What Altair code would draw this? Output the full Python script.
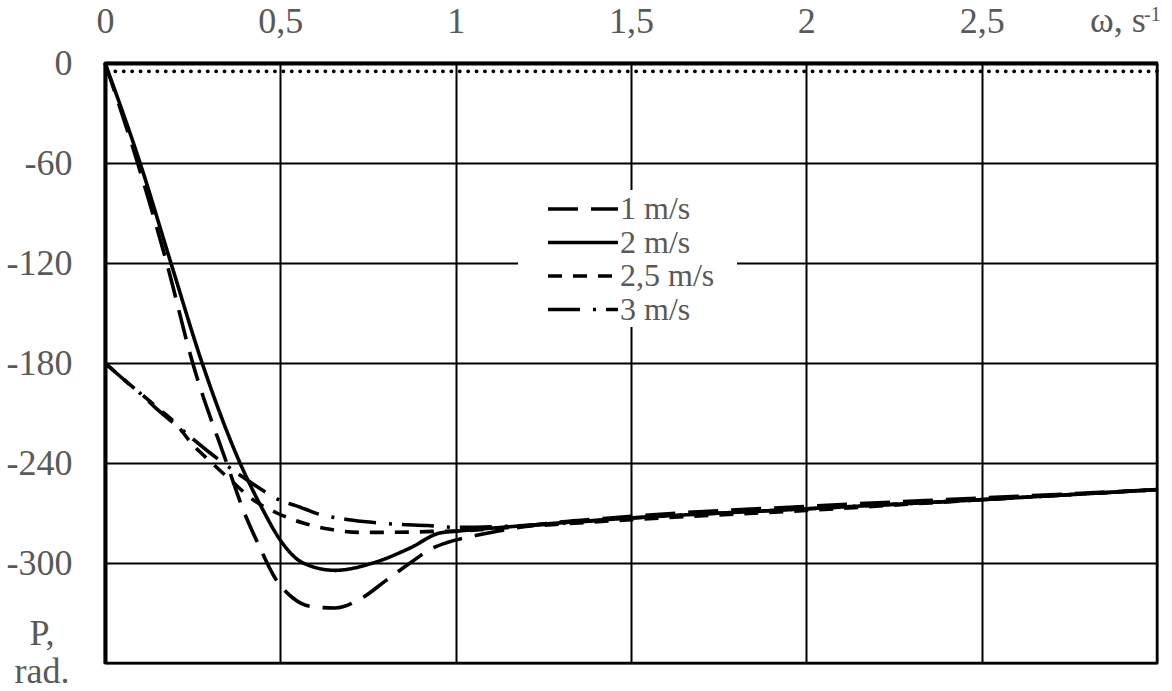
import altair as alt
import pandas as pd

# Speeds shown in the legend, in drawing order
SERIES = ["1 m/s", "2 m/s", "2,5 m/s", "3 m/s"]
DASHES = [[30, 13], [1, 0], [14, 11], [32, 13, 3, 10]]

# 1 m/s
w_1 = [0, 0.093, 0.176, 0.25, 0.347, 0.394, 0.44, 0.485, 0.536, 0.585, 0.656,
       0.733, 0.798, 0.87, 0.935, 0.978, 1.06, 1.2, 1.5, 2.0, 2.5, 3.0]
p_1 = [0, -60, -120, -180, -240, -268, -290, -309, -321, -326, -327,
       -321, -311, -300, -291, -287.6, -283.4, -278, -272, -266, -261, -256]

# 2 m/s
w_2 = [0, 0.1, 0.188, 0.277, 0.385, 0.45, 0.499, 0.565, 0.656, 0.764, 0.87,
       0.955, 1.0, 1.2, 1.5, 2.0, 2.5, 3.0]
p_2 = [0, -60, -120, -180, -240, -268, -286, -300, -304.4, -300, -291,
       -282, -281, -277.5, -273, -267.5, -262, -256]

# 2,5 m/s
w_25 = [0, 0.06, 0.1, 0.15, 0.2, 0.25, 0.3, 0.362, 0.422, 0.49, 0.565, 0.642,
        0.727, 0.804, 0.884, 0.946, 1.0, 1.2, 1.5, 2.0, 2.5, 3.0]
p_25 = [-180, -191, -198, -207, -216, -229, -239, -251, -262, -270, -276, -279.8,
        -281.6, -281.6, -281.4, -281, -280.8, -278, -274, -268.5, -262, -256]

# 3 m/s
w_3 = [0, 0.063, 0.094, 0.15, 0.222, 0.3, 0.394, 0.462, 0.499, 0.542, 0.622,
       0.664, 0.707, 0.793, 0.835, 0.92, 1.0, 1.2, 1.5, 2.0, 2.5, 3.0]
p_3 = [-180, -191.6, -197, -208, -220.5, -234, -248.6, -258, -262.4, -265.4, -271.4,
       -273, -274.4, -276.2, -276.8, -277.5, -278.6, -277.5, -273, -267.5, -262, -256]

# Dotted reference level
P_REF = [-5]

X_TICKS = [0, 0.5, 1, 1.5, 2, 2.5, 3]
Y_TICKS = [0, -60, -120, -180, -240, -300, -360]

FONT = "Liberation Serif"
GREY = "#595959"

frames = []
for name, w, p in [(SERIES[0], w_1, p_1), (SERIES[1], w_2, p_2),
                   (SERIES[2], w_25, p_25), (SERIES[3], w_3, p_3)]:
    frames.append(pd.DataFrame({"omega": w, "P": p, "series": name}))
df = pd.concat(frames, ignore_index=True)

x_enc = alt.X(
    "omega:Q",
    scale=alt.Scale(domain=[0, 3], nice=False, zero=False),
    axis=alt.Axis(
        orient="top", values=X_TICKS, title=None, grid=True, ticks=False, tickSize=0,
        labelExpr="datum.value == 3 ? '' : replace('' + datum.value, '.', ',')",
        labelFont=FONT, labelFontSize=36, labelColor=GREY, labelPadding=23,
        labelFlush=False, labelOverlap=False,
        domainColor="black", domainWidth=4, gridColor="black", gridWidth=2,
        gridOpacity=1, zindex=0,
    ),
)
y_enc = alt.Y(
    "P:Q",
    scale=alt.Scale(domain=[-360, 0], nice=False, zero=False),
    axis=alt.Axis(
        values=Y_TICKS, title=None, grid=True, ticks=False, tickSize=0,
        labelExpr="datum.value == -360 ? '' : '' + datum.value",
        labelFont=FONT, labelFontSize=36, labelColor=GREY, labelPadding=33,
        labelFlush=False, labelOverlap=False,
        domainColor="black", domainWidth=4, gridColor="black", gridWidth=2,
        gridOpacity=1, zindex=0,
    ),
)

# white panel behind the legend
legend_box = alt.Chart(pd.DataFrame({"k": [0]})).mark_rect(color="white").encode(
    x=alt.value(413), x2=alt.value(632), y=alt.value(127), y2=alt.value(264)
)

ref = alt.Chart(pd.DataFrame({"P": P_REF})).mark_rule(
    color="black", strokeWidth=3.8, strokeDash=[0.1, 8.3], strokeCap="round"
).encode(y="P:Q")

lines = alt.Chart(df).mark_line(
    color="black", strokeWidth=3.6, interpolate="monotone", strokeCap="butt"
).encode(
    x=x_enc,
    y=y_enc,
    strokeDash=alt.StrokeDash(
        "series:N", scale=alt.Scale(domain=SERIES, range=DASHES), legend=None
    ),
)

# legend: one sample stroke and one label per speed
LEGEND_ROW_Y = [146, 179.5, 213, 246.5]
legend_parts = []
for name, dash, ry in zip(SERIES, DASHES, LEGEND_ROW_Y):
    legend_parts.append(
        alt.Chart(pd.DataFrame({"series": [name]})).mark_rule(
            color="black", strokeWidth=3.6, strokeDash=dash, strokeCap="butt"
        ).encode(x=alt.value(443), x2=alt.value(513), y=alt.value(ry))
    )
    legend_parts.append(
        alt.Chart(pd.DataFrame({"series": [name]})).mark_text(
            font=FONT, fontSize=32, color=GREY, align="left", baseline="alphabetic"
        ).encode(x=alt.value(515), y=alt.value(ry + 10), text="series:N")
    )


def label(text, x, y, size=36, align="left"):
    return alt.Chart(pd.DataFrame({"t": [text]})).mark_text(
        font=FONT, fontSize=size, color=GREY, align=align, baseline="alphabetic"
    ).encode(x=alt.value(x), y=alt.value(y), text="t:N")


titles = [
    label("ω, s", 985, -31),
    label("-1", 1039, -42, size=20),
    label("P,", -63, 582, align="center"),
    label("rad.", -63, 620, align="center"),
]

chart = alt.layer(legend_box, ref, lines, *legend_parts, *titles).properties(
    width=1052, height=600,
    autosize=alt.AutoSizeParams(type="none"),
    padding={"left": 105, "top": 63, "right": 15, "bottom": 28},
).configure_view(stroke="black", strokeWidth=2.5)

chart.save("out.html", embed_options={"renderer": "svg", "actions": False})
